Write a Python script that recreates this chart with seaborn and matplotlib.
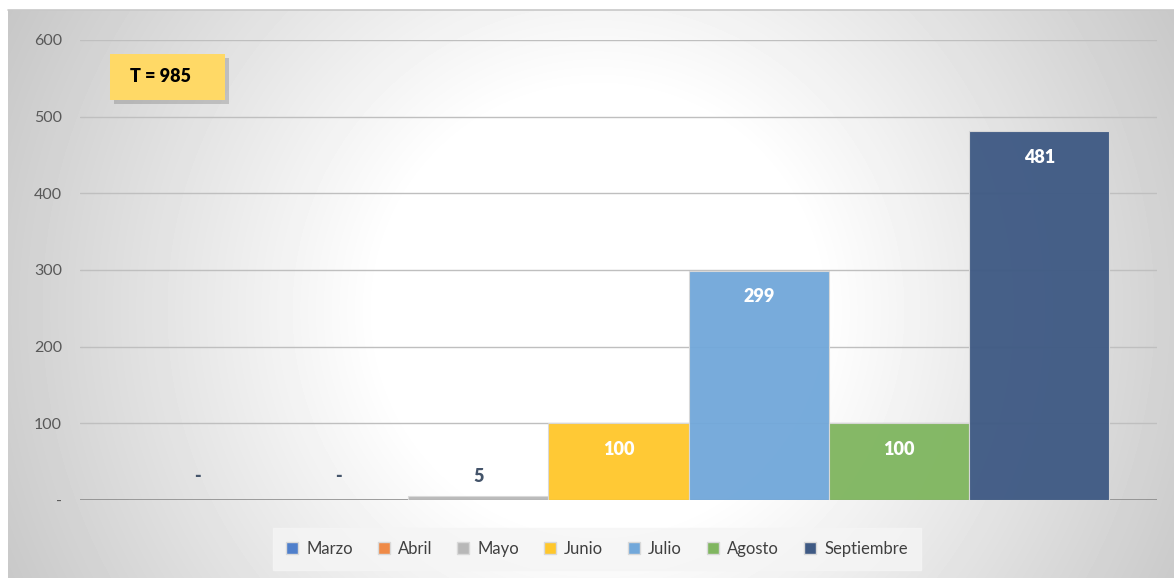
import numpy as np
import pandas as pd
import matplotlib
matplotlib.use("Agg")
import matplotlib.pyplot as plt
from matplotlib.patches import Patch, FancyBboxPatch
import seaborn as sns

# datos
meses = ["Marzo", "Abril", "Mayo", "Junio", "Julio", "Agosto", "Septiembre"]
valores = [0, 0, 5, 100, 299, 100, 481]
colores = ["#4F7FCB", "#EF8A47", "#B8B8B8", "#FFC72C", "#72A8DA", "#80B660", "#3F5A84"]
total_txt = "T = 985"
yticks = [0, 100, 200, 300, 400, 500, 600]
ytick_labels = ["-", "100", "200", "300", "400", "500", "600"]

sns.set_style("white")
plt.rcParams["font.family"] = ["Lato", "DejaVu Sans"]

fig = plt.figure(figsize=(11.74, 5.78), dpi=100)

# fondo con degradado radial
bg = fig.add_axes([8 / 1174, 0, 1 - 8 / 1174, 568 / 578], zorder=0)
W, H = 1166, 568
xx, yy = np.meshgrid(np.arange(W), np.arange(H))
d = np.sqrt((xx - 590) ** 2 + (yy - 300) ** 2)
inten = 1 - np.clip((d - 220) / 460, 0, 1) * 0.23
bg.imshow(inten, cmap="gray", vmin=0, vmax=1, aspect="auto", interpolation="bilinear")
bg.set_axis_off()
fig.add_artist(plt.Line2D([8 / 1174, 1], [568 / 578, 568 / 578], color="#C8C8C8", lw=1.2))

ax = fig.add_axes([80 / 1174, 78 / 578, 1077 / 1174, 460 / 578], zorder=1)
ax.patch.set_alpha(0)

df = pd.DataFrame({"mes": meses, "valor": valores})
sns.barplot(data=df, x="mes", y="valor", hue="mes", palette=colores, width=1.0,
            legend=False, ax=ax, saturation=1, alpha=0.96, edgecolor="#D9D9D9",
            linewidth=0.8, zorder=3)

ax.set_xlim(-0.84, 6.84)
ax.set_ylim(0, 600)
ax.set_yticks(yticks)
ax.set_yticklabels(ytick_labels, color="#595959", fontsize=11.5)
ax.tick_params(axis="y", length=0, pad=13)
ax.set_xticks([])
ax.set_xlabel("")
ax.set_ylabel("")
ax.grid(axis="y", color="#BFBFBF", lw=1.0, zorder=0)
ax.axhline(0, color="#8C8C8C", lw=1.2, zorder=2)
for s in ax.spines.values():
    s.set_visible(False)

# etiquetas de datos
for i, v in enumerate(valores):
    if v >= 50:
        ax.text(i, v - 34, f"{v}", ha="center", va="center", color="white",
                fontsize=13, fontweight="heavy", zorder=5)
    else:
        ax.text(i, 31, "-" if v == 0 else f"{v}", ha="center", va="center",
                color="#44546A", fontsize=13, fontweight="heavy", zorder=5)

# recuadro T
sh = FancyBboxPatch((114 / 1174, (578 - 104) / 578), 115 / 1174, 46 / 578,
                    boxstyle="square,pad=0", transform=fig.transFigure,
                    facecolor="#000000", alpha=0.16, edgecolor="none", zorder=2)
fig.add_artist(sh)
box = FancyBboxPatch((110 / 1174, (578 - 100) / 578), 115 / 1174, 46 / 578,
                     boxstyle="square,pad=0", transform=fig.transFigure,
                     facecolor="#FFD966", edgecolor="none", zorder=3)
fig.add_artist(box)
fig.text(130 / 1174, (578 - 77) / 578, total_txt, ha="left", va="center",
         fontsize=13, fontweight="heavy", color="black", zorder=4)

# leyenda
handles = [Patch(facecolor=c, edgecolor="#D9D9D9", label=m)
           for m, c in zip(meses, colores)]
leg = fig.legend(handles=handles, loc="center", bbox_to_anchor=(597 / 1174, 29 / 578),
                 ncol=7, frameon=True, fontsize=12, handlelength=0.7, handleheight=0.7,
                 handletextpad=0.5, columnspacing=1.5, borderpad=0.5)
leg.get_frame().set_facecolor("#F5F5F5")
leg.get_frame().set_edgecolor("#F5F5F5")
leg.get_frame().set_boxstyle("square")
for t in leg.get_texts():
    t.set_color("#404040")

fig.savefig("out.png", dpi=100)
